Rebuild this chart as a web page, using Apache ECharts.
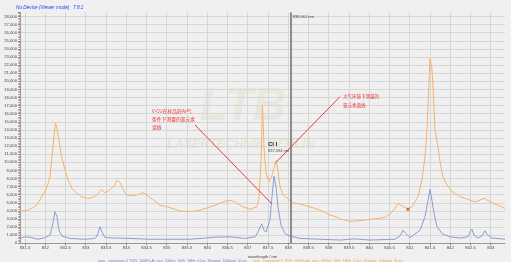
<!DOCTYPE html>
<html>
<head>
<meta charset="utf-8">
<script src="https://cdn.jsdelivr.net/npm/echarts@6/dist/echarts.min.js"></script>
<style>
html,body{margin:0;padding:0;background:#f0f0f0;}
#c{width:511px;height:262px;}
</style>
</head>
<body>
<div id="c"></div>
<script>
// ---- data (wavelength in nm, intensity in counts) ----
const xTickValues = [831.5,832,832.5,833,833.5,834,834.5,835,835.5,836,836.5,837,837.5,838,838.5,839,839.5,840,840.5,841,841.5,842,842.5,843];

const orangeWl = [831.377,831.5,831.623,831.789,831.912,832.036,832.117,832.184,832.223,832.253,832.278,832.322,832.406,832.488,832.569,832.653,832.777,832.900,833.023,833.147,833.270,833.394,833.475,833.599,833.722,833.764,833.846,833.927,834.011,834.135,834.258,834.421,834.505,834.668,834.833,834.999,835.080,835.327,835.574,835.821,836.020,836.191,836.438,836.562,836.685,836.883,837.056,837.228,837.278,837.327,837.364,837.401,837.451,837.525,837.599,837.698,837.747,837.796,837.870,837.969,838.093,838.290,838.537,838.784,839.031,839.204,839.278,839.525,839.772,840.019,840.265,840.389,840.512,840.636,840.710,840.759,840.858,840.957,841.056,841.204,841.302,841.377,841.426,841.500,841.542,841.574,841.623,841.698,841.747,841.821,841.920,842.043,842.241,842.488,842.611,842.735,842.858,842.932,843.105,843.228,843.352];
const orangeVal = [4000,4000,4200,4700,5750,6800,8200,11500,13600,14800,14500,13200,10700,9050,7800,6800,6200,5750,5550,5600,5950,6650,6250,6600,7200,7800,7500,6600,5950,5850,5950,6250,5950,5350,4700,4500,4400,4000,3900,4100,4400,4700,5200,5300,5100,4500,4200,4500,5600,10000,17000,12000,8600,7600,8400,10200,9000,7000,6000,5600,5000,4850,4500,4100,3500,3200,3000,2700,2800,2950,3100,3200,3600,4300,4900,5000,4500,4200,4500,5750,7800,10700,14000,22800,21800,19500,14000,11900,10100,8200,7200,6400,5750,5350,5100,5350,5550,5250,4850,4600,4300];

const blueWl = [831.377,831.5,831.623,831.821,831.994,832.117,832.191,832.241,832.290,832.340,832.414,832.611,832.981,833.228,833.278,833.327,833.352,833.401,833.475,833.722,834.093,834.586,835.080,835.574,836.191,836.562,836.932,837.179,837.253,837.344,837.401,837.451,837.500,837.549,837.599,837.648,837.698,837.747,837.821,837.920,838.043,838.290,838.784,839.278,839.648,840.019,840.636,840.759,840.833,840.875,840.907,841.006,841.253,841.377,841.451,841.500,841.549,841.599,841.673,841.796,841.994,842.241,842.438,842.488,842.537,842.586,842.685,842.784,842.858,842.907,843.031,843.352];
const blueVal = [600,800,750,500,700,1000,2500,3900,3300,1600,900,600,500,600,900,1600,2050,1400,700,650,600,500,500,500,750,800,600,800,1400,2400,1600,1400,1600,2900,5750,8300,7000,4500,2250,1200,900,600,500,400,550,400,500,900,1600,1750,1200,700,1600,3300,5300,6650,5300,3700,2050,1200,800,650,800,1400,1750,1000,650,900,1550,1100,650,500];

const blueName = 'comparison.0_750V_100kPa-Ar_race_5000ns_10Hz_1MHz_0.5us_30usgate_1000gain_01.sry';
const orangeName = 'comparison.0_750V_100kPa-Air_race_5000ns_10Hz_1MHz_0.5us_30usgate_1000gain_01.sry';

const cursorWl = 838.061;
const clLineWl = 837.594;

function pairs(xs, ys){ return xs.map((x,i)=>[x, ys[i]]); }

const chart = echarts.init(document.getElementById('c'), null, {renderer:'canvas'});
const FONT = 'Liberation Sans, Arial, sans-serif';
const CJK = 'Noto Sans CJK SC, sans-serif';

chart.setOption({
  backgroundColor: '#f0f0f0',
  animation: false,
  textStyle: {fontFamily: FONT},
  grid: {left: 20, right: 6, top: 12.4, bottom: 18.7, containLabel: false, outerBoundsMode: 'none'},
  legend: {
    left: 93, top: 254.5, itemGap: 6, itemWidth: 7, itemHeight: 1, icon: 'rect',
    textStyle: {fontSize: 3.3, padding: [0,0,0,-2]},
    data: [
      {name: blueName, textStyle: {color: '#6f86c8'}},
      {name: orangeName, textStyle: {color: '#f0a050'}}
    ]
  },
  xAxis: {
    type: 'value', min: 831.377, max: 843.352,
    name: 'wavelength / nm', nameLocation: 'middle', nameGap: 8,
    nameTextStyle: {fontSize: 4, color: '#444'},
    axisLine: {show: true, onZero: false, lineStyle: {color: '#999', width: 1}},
    axisTick: {show: true, customValues: xTickValues, length: 2, lineStyle: {color: '#e06060'}},
    axisLabel: {customValues: xTickValues, fontSize: 4.2, color: '#444', margin: 3,
      formatter: v => String(+v.toFixed(1))},
    splitLine: {show: true, lineStyle: {color: '#d6d6d6', width: 1}}
  },
  yAxis: {
    type: 'value', min: 0, max: 28500, interval: 1000,
    name: 'Intensity / counts', nameLocation: 'middle', nameGap: 16, nameRotate: 90,
    nameTextStyle: {fontSize: 3.5, color: '#444'},
    axisLine: {show: true, lineStyle: {color: '#999', width: 1}},
    axisTick: {show: true, length: 2, lineStyle: {color: '#e06060'}},
    minorTick: {show: true, splitNumber: 5, length: 1.5, lineStyle: {color: '#999'}},
    axisLabel: {fontSize: 4.2, color: '#444', margin: 3, showMaxLabel: false,
      formatter: v => v.toLocaleString('en-US')},
    splitLine: {show: true, showMaxLine: false, lineStyle: {color: '#d6d6d6', width: 1}}
  },
  graphic: [
    {type: 'text', left: 16, top: 4.8, z: 10, style: {text: 'No Device (Viewer mode)', fontSize: 4.7, fontStyle: 'italic', fill: '#2a3cf0', fontFamily: FONT}},
    {type: 'text', left: 73, top: 4.8, z: 10, style: {text: '7.8.2', fontSize: 4.7, fontStyle: 'italic', fill: '#2a3cf0', fontFamily: FONT}},
    {type: 'text', left: 200, top: 84, z: 0, silent: true, style: {text: 'LTB', fontSize: 46, fontWeight: 'bold', fontStyle: 'italic', fill: 'rgba(205,200,150,0.2)', fontFamily: FONT}},
    {type: 'text', left: 167, top: 138, z: 0, silent: true, style: {text: 'LASERTECHNIK BERLIN', fontSize: 12.5, fontWeight: 'bold', fontStyle: 'italic', fill: 'rgba(205,200,150,0.28)', fontFamily: FONT}}
  ],
  series: [
    {
      name: orangeName, type: 'line', data: pairs(orangeWl, orangeVal),
      showSymbol: false, symbol: 'none', z: 3,
      lineStyle: {color: '#f7b26b', width: 1}, itemStyle: {color: '#f7b26b'},
      markPoint: {
        silent: true, animation: false,
        data: [
          {coord: [840.957, 4200], symbol: 'rect', symbolSize: 3, itemStyle: {color: '#e0702a'}, label: {show: false}},
          {coord: [cursorWl, 28000], symbol: 'circle', symbolSize: 0,
            label: {show: true, position: 'right', distance: 2, formatter: cursorWl.toFixed(3) + ' nm', fontSize: 4, color: '#444'}},
          {coord: [837.5, 11900], symbol: 'circle', symbolSize: 0,
            label: {show: true, position: 'right', distance: 0, formatter: '{a|Cl I}\n{b|' + clLineWl.toFixed(3) + ' nm}',
              rich: {a: {fontSize: 6, fontWeight: 'bold', color: '#222', lineHeight: 8}, b: {fontSize: 4, color: '#444', lineHeight: 6}}}},
          {coord: [834.636, 16800], symbol: 'circle', symbolSize: 0,
            label: {show: true, position: 'right', distance: 0, align: 'left', verticalAlign: 'top', lineHeight: 8,
              formatter: 'V-CU在样品腔Ar气\n条件下测量的氯元素\n谱线', fontSize: 4.8, color: '#f03030', fontFamily: CJK}},
          {coord: [839.35, 18600], symbol: 'circle', symbolSize: 0,
            label: {show: true, position: 'right', distance: 0, align: 'left', verticalAlign: 'top', lineHeight: 8.3,
              formatter: '大气环境下测量的\n氯元素谱线', fontSize: 4.5, color: '#f03030', fontFamily: CJK}}
        ]
      },
      markLine: {
        silent: true, animation: false, symbol: ['none','none'],
        label: {show: false},
        data: [
          [{coord: [cursorWl, 0], lineStyle: {color: '#8c8c8c', width: 2, type: 'solid'}}, {coord: [cursorWl, 28500]}],
          [{coord: [835.698, 14600], lineStyle: {color: '#f03a3a', width: 1, type: 'solid'}}, {coord: [837.599, 4850]}],
          [{coord: [839.278, 18100], lineStyle: {color: '#f03a3a', width: 1, type: 'solid'}}, {coord: [837.698, 10000]}]
        ]
      }
    },
    {
      name: blueName, type: 'line', data: pairs(blueWl, blueVal),
      showSymbol: false, symbol: 'none', z: 4,
      lineStyle: {color: '#8b9ed3', width: 1}, itemStyle: {color: '#8b9ed3'}
    }
  ]
});
</script>
</body>
</html>
